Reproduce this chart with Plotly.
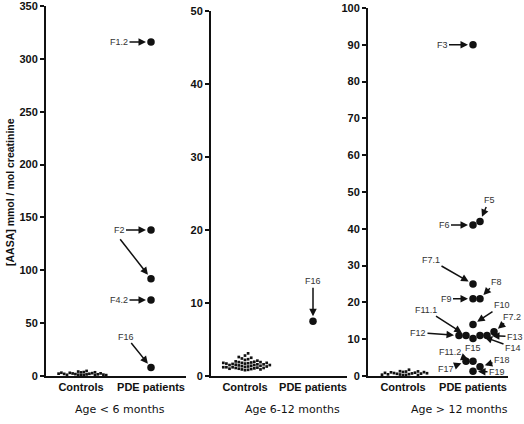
import plotly.graph_objects as go

# ---------------- data ----------------
panels = ["Age < 6 months", "Age 6-12 months", "Age > 12 months"]
categories = ["Controls", "PDE patients"]
y_ticks_1 = [0, 50, 100, 150, 200, 250, 300, 350]
y_ticks_2 = [0, 10, 20, 30, 40, 50]
y_ticks_3 = [0, 10, 20, 30, 40, 50, 60, 70, 80, 90, 100]

controls_1 = [0.6, 0.9, 1.2, 1.5, 1.8, 2.1, 2.4, 2.7, 3.0, 3.4,
              0.7, 1.1, 1.6, 2.0, 2.5, 3.1, 3.7, 4.2, 4.8, 1.3, 2.2, 0.8, 3.5]
controls_2 = [0.8, 0.85, 0.9, 0.95, 1.0, 1.05, 1.1, 1.15, 1.2, 1.25, 1.3, 1.35, 1.4,
              1.45, 1.5, 1.55, 1.6, 1.65, 1.7, 1.75, 1.8, 1.85, 1.9, 1.95, 2.0,
              0.9, 1.0, 1.1, 1.2, 1.3, 1.4, 1.5, 1.6, 1.7, 1.8, 1.9, 1.2, 1.5, 1.8,
              2.1, 2.2, 2.3, 2.4, 2.5, 2.6, 2.8, 3.1]
controls_3 = [0.2, 0.3, 0.4, 0.5, 0.6, 0.7, 0.8, 0.9, 1.0, 1.1, 1.2, 1.3,
              0.25, 0.45, 0.65, 0.85, 1.05, 1.25, 0.35, 0.75, 1.7]

patients_1_labels = ["F1.2", "F2", "F2b", "F4.2", "F16"]
patients_1 = [316, 138, 92, 72, 8]
patients_2_labels = ["F16"]
patients_2 = [7.5]
patients_3_labels = ["F3", "F6", "F5", "F7.1", "F9", "F8", "F10", "F15", "F14", "F11.1",
                     "F13", "F12", "F7.2", "F19", "F18", "F11.2", "F17"]
patients_3 = [90, 41, 42, 25, 21, 21, 14, 10.2, 11, 11, 11, 11, 12, 1.3, 2.5, 4, 4]

# ---------------- layout geometry (pixels) ----------------
W, H = 524, 424
x_px = [(46, 186), (211, 347), (368, 508)]
y_top = [6, 11, 8]
y_bot = 376
age_label_x = [120, 292, 459]
y_ticks = [y_ticks_1, y_ticks_2, y_ticks_3]

def swarm(values, px_per_x, px_per_y, diam, step):
    placed, offs = [], []
    cands = [0] + [s * i for i in range(1, 60) for s in (1, -1)]
    for v in values:
        yp = v * px_per_y
        xp = 0
        for c in cands:
            xp = c * step
            if all((xp - a) ** 2 + (yp - b) ** 2 >= diam * diam - 1e-9 for a, b in placed):
                break
        placed.append((xp, yp))
        offs.append(xp / px_per_x)
    return offs

fig = go.Figure()
controls = [controls_1, controls_2, controls_3]
patients = [patients_1, patients_2, patients_3]
patient_labels = [patients_1_labels, patients_2_labels, patients_3_labels]
positions = {}
ctrl_diam = [2.8, 3.1, 3.0]

for i in range(3):
    xs = "" if i == 0 else str(i + 1)
    yr = y_ticks[i][-1]
    pxx = (x_px[i][1] - x_px[i][0]) / 2.0
    pxy = (y_bot - y_top[i]) / yr
    co = swarm(controls[i], pxx, pxy, ctrl_diam[i], ctrl_diam[i])
    fig.add_trace(go.Scatter(
        x=[0 + o for o in co], y=controls[i], mode="markers",
        marker=dict(symbol="square", size=2.7, color="#111"),
        xaxis="x" + xs, yaxis="y" + xs, hoverinfo="skip"))
    po = swarm(patients[i], pxx, pxy, 7.0, 7.0)
    px_list = [1 + o for o in po]
    fig.add_trace(go.Scatter(
        x=px_list, y=patients[i], mode="markers",
        marker=dict(symbol="circle", size=7.5, color="#111"),
        xaxis="x" + xs, yaxis="y" + xs, hoverinfo="skip"))
    for lab, xv, yv in zip(patient_labels[i], px_list, patients[i]):
        positions[(i, lab)] = (xv, yv)

layout = dict(width=W, height=H, margin=dict(l=0, r=0, t=0, b=0, autoexpand=False),
              paper_bgcolor="white", plot_bgcolor="white", showlegend=False)
for i in range(3):
    xs = "" if i == 0 else str(i + 1)
    layout["xaxis" + xs] = dict(
        domain=[x_px[i][0] / W, x_px[i][1] / W], range=[-0.5, 1.5],
        anchor="y" + xs, tickvals=[0, 1], ticktext=categories, automargin=False,
        showline=True, linecolor="#111", linewidth=2, ticks="",
        showgrid=False, zeroline=False, fixedrange=True, ticklabeloverflow="allow",
        tickfont=dict(family="Liberation Sans, Arial", size=11, color="#111", weight="bold"))
    layout["yaxis" + xs] = dict(
        domain=[1 - y_bot / H, 1 - y_top[i] / H], range=[0, y_ticks[i][-1]],
        anchor="x" + xs, tickmode="array", tickvals=y_ticks[i],
        ticktext=[str(t) for t in y_ticks[i]], automargin=False,
        ticklabeloverflow="allow",
        showline=True, linecolor="#111", linewidth=2, ticks="outside",
        ticklen=4, tickwidth=1.5, tickcolor="#111",
        showgrid=False, zeroline=False, fixedrange=True,
        tickfont=dict(family="Liberation Sans, Arial", size=11, color="#111", weight="bold"))
fig.update_layout(**layout)

# ---------------- annotations ----------------
# (panel, label, text, ax, ay)  offsets in pixels from the point
arrow_specs = [
    (0, "F1.2", "F1.2", -32, 0),
    (0, "F2", "F2", -32, 0),
    (0, "F2b", "", -32, -41),
    (0, "F4.2", "F4.2", -32, 0),
    (0, "F16", "F16", -25, -31),
    (1, "F16", "F16", 0, -40),
    (2, "F3", "F3", -31, 0),
    (2, "F5", "F5", 9, -21),
    (2, "F6", "F6", -29, 0),
    (2, "F7.1", "F7.1", -42, -24),
    (2, "F8", "F8", 16, -17),
    (2, "F9", "F9", -27, 0),
    (2, "F10", "F10", 29, -19),
    (2, "F11.1", "F11.1", -40, -26),
    (2, "F12", "F12", -41, -3),
    (2, "F7.2", "F7.2", 18, -15),
    (2, "F13", "F13", 28, 1),
    (2, "F14", "F14", 33, 12),
    (2, "F11.2", "F11.2", -23, -9),
    (2, "F17", "F17", -20, 8),
    (2, "F18", "F18", 22, -7),
    (2, "F19", "F19", 24, 1),
]
lab_font = dict(family="Liberation Sans, Arial", size=9, color="#333")
for pi, key, txt, ax, ay in arrow_specs:
    xs = "" if pi == 0 else str(pi + 1)
    xv, yv = positions[(pi, key)]
    fig.add_annotation(x=xv, y=yv, xref="x" + xs, yref="y" + xs, text=txt,
                       showarrow=True, ax=ax, ay=ay, arrowhead=2, arrowsize=1,
                       arrowwidth=1.5, arrowcolor="#111", standoff=5,
                       font=lab_font)
xv, yv = positions[(2, "F15")]
fig.add_annotation(x=xv, y=yv, xref="x3", yref="y3", text="F15", showarrow=False,
                   yshift=-10, font=lab_font)

for i, t in enumerate(panels):
    fig.add_annotation(x=age_label_x[i] / W, y=1 - 409 / H, xref="paper", yref="paper",
                       xanchor="center", yanchor="middle",
                       text=t, showarrow=False,
                       font=dict(family="DejaVu Sans", size=11, color="#111"))

fig.add_annotation(x=10 / W, y=1 - 192 / H, xref="paper", yref="paper",
                   xanchor="center", yanchor="middle",
                   text="[AASA] mmol / mol creatinine", textangle=-90, showarrow=False,
                   font=dict(family="Liberation Sans, Arial", size=10.5, color="#111",
                             weight="bold"))

fig.write_html("out.html", config={"displayModeBar": False},
               post_script="document.body.style.margin='0';"
                           "document.body.style.overflow='hidden';")
